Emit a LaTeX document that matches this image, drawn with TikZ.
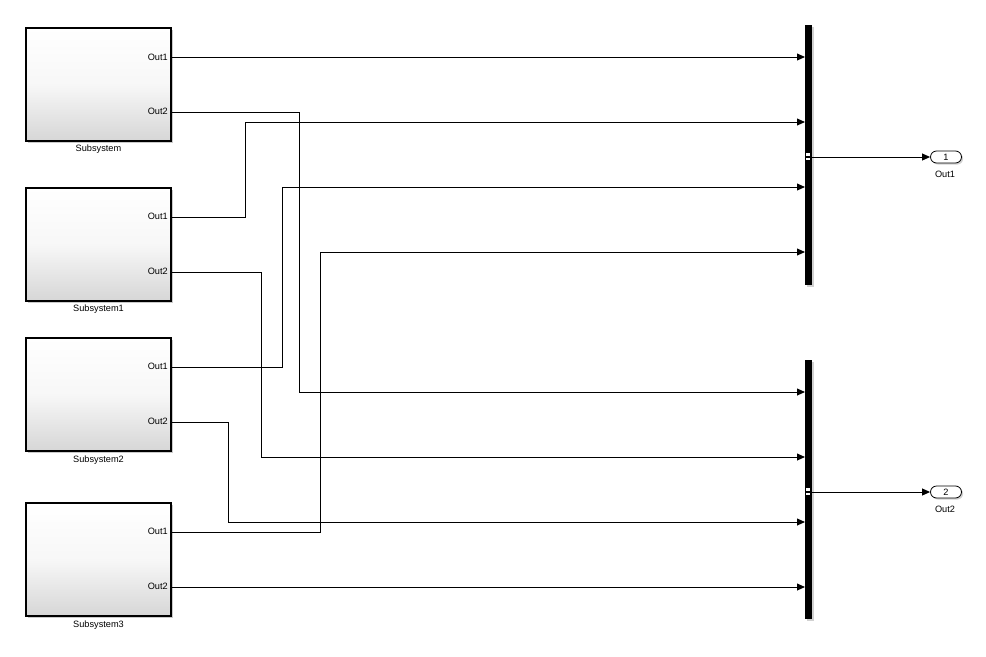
\documentclass[tikz,border=0pt]{standalone}
\usepackage{fontspec}
\setmainfont{Liberation Sans}
\usetikzlibrary{arrows.meta,shadows}
\begin{document}
\begin{tikzpicture}[x=0.75pt,y=-0.75pt,
  font=\fontsize{6.9}{8}\selectfont,
  block/.style={draw=black,line width=0.8pt,minimum width=108.75pt,minimum height=84.75pt,inner sep=0pt,
    top color=white,bottom color=black!16,middle color=black!3,
    drop shadow={shadow xshift=1.8pt,shadow yshift=-1.8pt,fill=black!35,opacity=0.6}},
  muxbar/.style={fill=black,draw=none,minimum width=5.25pt,inner sep=0pt,
    drop shadow={shadow xshift=1.5pt,shadow yshift=-1.2pt,fill=black!30,opacity=0.6}},
  outport/.style={draw=black,line width=0.6pt,fill=white,rounded corners=4.5pt,minimum width=23.25pt,minimum height=9pt,inner sep=0pt,
    drop shadow={shadow xshift=1.2pt,shadow yshift=-1.2pt,fill=black!30,opacity=0.6}},
  portlbl/.style={anchor=east,inner sep=0pt},
  blbl/.style={inner sep=0pt},
  wire/.style={line width=0.75pt,-{Triangle[length=6pt,width=5.2pt]}},
]
\useasboundingbox (0,0) rectangle (986,657);
% subsystem blocks
\node[block] (s0) at (98.5,84.5) {};
\node[block] (s1) at (98.5,244.5) {};
\node[block] (s2) at (98.5,394.5) {};
\node[block] (s3) at (98.5,559.5) {};
\node[blbl] (s0l) at (98.5,149.5) {Subsystem};
\node[blbl] (s1l) at (98.5,309.5) {Subsystem1};
\node[blbl] (s2l) at (98.5,460.5) {Subsystem2};
\node[blbl] (s3l) at (98.5,625.5) {Subsystem3};
% output port coordinates
\coordinate (s0o1) at (171,57);  \coordinate (s0o2) at (171,112);
\coordinate (s1o1) at (171,217); \coordinate (s1o2) at (171,272);
\coordinate (s2o1) at (171,367); \coordinate (s2o2) at (171,422);
\coordinate (s3o1) at (171,532); \coordinate (s3o2) at (171,587);
\node[portlbl] (s0t1) at (168,57) {Out1};  \node[portlbl] (s0t2) at (168,111) {Out2};
\node[portlbl] (s1t1) at (168,216) {Out1}; \node[portlbl] (s1t2) at (168,271) {Out2};
\node[portlbl] (s2t1) at (168,366) {Out1}; \node[portlbl] (s2t2) at (168,421) {Out2};
\node[portlbl] (s3t1) at (168,531) {Out1}; \node[portlbl] (s3t2) at (168,586) {Out2};
% mux bars
\node[muxbar,minimum height=195pt] (m1) at (808.5,155) {};
\node[muxbar,minimum height=194.25pt] (m2) at (808.5,489.5) {};
\coordinate (m1i1) at (805,57);  \coordinate (m1i2) at (805,122);
\coordinate (m1i3) at (805,187); \coordinate (m1i4) at (805,252);
\coordinate (m2i1) at (805,392); \coordinate (m2i2) at (805,457);
\coordinate (m2i3) at (805,522); \coordinate (m2i4) at (805,587);
\coordinate (m1o) at (812,157);
\coordinate (m2o) at (812,492);
% small marks on the mux output
\fill[white] (806.3,152.8) rectangle (809.5,155.6);
\fill[white] (806.3,157.6) rectangle (809.5,160.4);
\fill[white] (806.3,487.8) rectangle (809.5,490.6);
\fill[white] (806.3,492.6) rectangle (809.5,495.4);
% outports
\node[outport] (p1) at (946,157) {1};
\node[outport] (p2) at (946,492) {2};
\node[blbl] (p1l) at (945,174) {Out1};
\node[blbl] (p2l) at (945,509) {Out2};
% wires
\draw[wire] (s0o1) -- (m1i1);
\draw[wire] (s0o2) -- (299,112) |- (m2i1);
\draw[wire] (s1o1) -- (245.5,217) |- (m1i2);
\draw[wire] (s1o2) -- (261.5,272) |- (m2i2);
\draw[wire] (s2o1) -- (282.5,367) |- (m1i3);
\draw[wire] (s2o2) -- (228,422) |- (m2i3);
\draw[wire] (s3o1) -- (320.5,532) |- (m1i4);
\draw[wire] (s3o2) -- (m2i4);
\draw[wire] (m1o) -- (p1.west);
\draw[wire] (m2o) -- (p2.west);
\end{tikzpicture}
\end{document}
